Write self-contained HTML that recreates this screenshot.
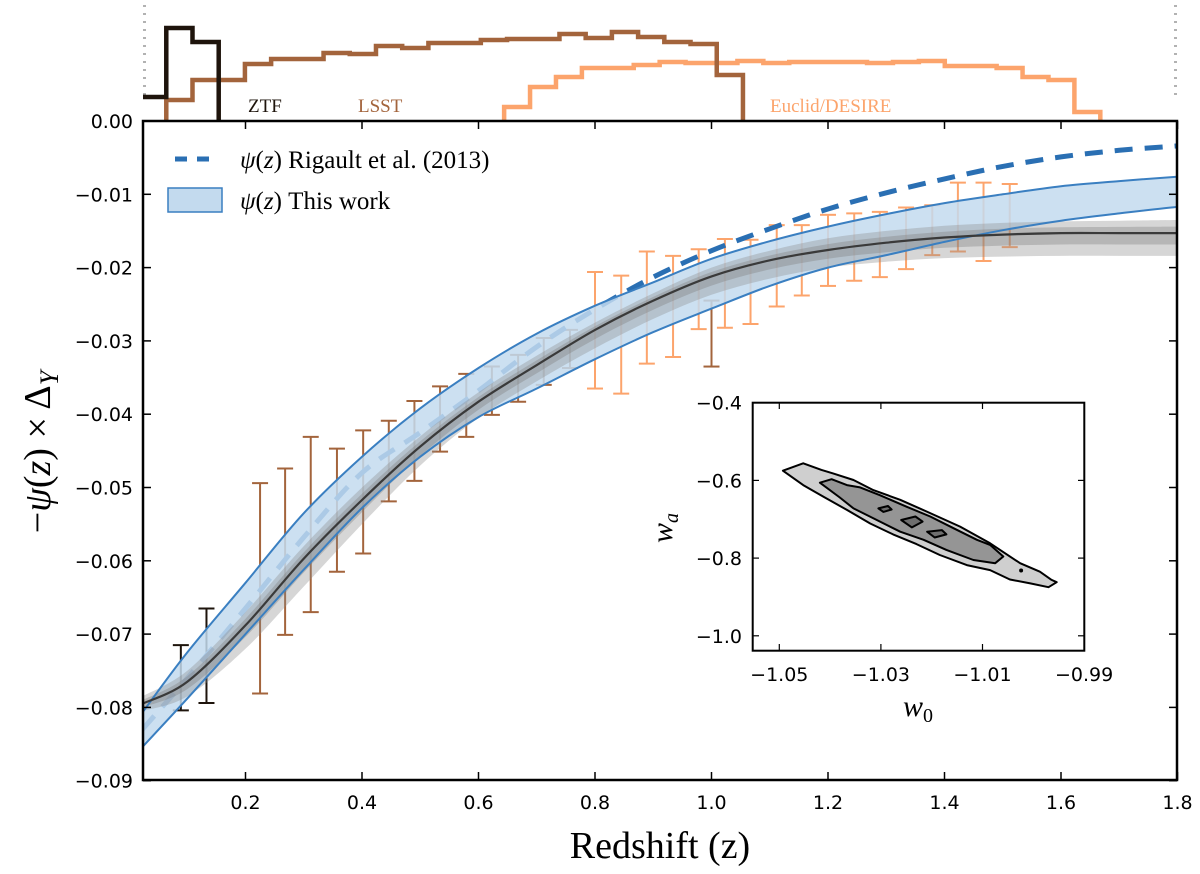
<!DOCTYPE html>
<html><head><meta charset="utf-8"><style>
html,body{margin:0;padding:0;background:#fff;}
svg{display:block;}
.tk{font-family:"DejaVu Sans","Liberation Sans",sans-serif;font-size:19px;fill:#000;}
.sf{font-family:"Liberation Serif","DejaVu Serif",serif;}
</style></head><body>
<svg id="chart" width="1200" height="874" viewBox="0 0 1200 874" xmlns="http://www.w3.org/2000/svg">
<defs><clipPath id="mainclip"><rect x="143" y="121" width="1034" height="659"/></clipPath>
<clipPath id="histclip"><rect x="143" y="0" width="1034" height="121"/></clipPath></defs>
<g id="hist" clip-path="url(#histclip)"></g>
<g id="main" clip-path="url(#mainclip)"></g>
<g id="axes"></g>
<g id="inset"></g>
</svg>
<script>
// ---- data ----
const zGrid = [0.023,0.1,0.2,0.3,0.4,0.5,0.6,0.7,0.8,0.9,1.0,1.1,1.2,1.3,1.4,1.5,1.6,1.7,1.8];
const medianPsi = [-0.0795,-0.0765,-0.0688,-0.0597,-0.0517,-0.0444,-0.0383,-0.0333,-0.0285,-0.0245,-0.0212,-0.0190,-0.0176,-0.0166,-0.0159,-0.0155,-0.0153,-0.0153,-0.0153];
const bandUpper = [-0.0807,-0.0725,-0.0630,-0.0535,-0.0458,-0.0392,-0.0337,-0.0290,-0.0252,-0.0220,-0.0188,-0.0164,-0.0144,-0.0127,-0.0112,-0.0100,-0.0089,-0.0082,-0.0076];
const bandLower = [-0.0854,-0.0788,-0.0700,-0.0612,-0.0528,-0.0458,-0.0404,-0.0365,-0.0325,-0.0288,-0.0256,-0.0225,-0.0200,-0.0183,-0.0165,-0.0149,-0.0136,-0.0126,-0.0117];
const rigault = [-0.0830,-0.0760,-0.0665,-0.0568,-0.0480,-0.0425,-0.0368,-0.0308,-0.0257,-0.0213,-0.0177,-0.0147,-0.0120,-0.0098,-0.0079,-0.0062,-0.0049,-0.0040,-0.0034];
const greyHi = [-0.0785,-0.0750,-0.0670,-0.0580,-0.0500,-0.0430,-0.0370,-0.0320,-0.0275,-0.0235,-0.0200,-0.0177,-0.0160,-0.0150,-0.0143,-0.0139,-0.0137,-0.0136,-0.0135];
const greyLo = [-0.0805,-0.0785,-0.0720,-0.0635,-0.0550,-0.0470,-0.0405,-0.0355,-0.0310,-0.0270,-0.0237,-0.0215,-0.0200,-0.0192,-0.0187,-0.0185,-0.0184,-0.0184,-0.0184];

const ztfZ = [0.089,0.133];
const ztfHi = [-0.0715,-0.0665];
const ztfLo = [-0.0804,-0.0794];
const lsstZ = [0.225,0.268,0.312,0.357,0.402,0.446,0.490,0.534,0.579,0.623,0.668,0.712,0.757,1.0];
const lsstHi = [-0.0494,-0.0474,-0.0431,-0.0447,-0.0422,-0.0409,-0.0382,-0.0362,-0.0345,-0.0335,-0.0319,-0.0296,-0.0285,-0.0245];
const lsstLo = [-0.0781,-0.0701,-0.0670,-0.0615,-0.0590,-0.0519,-0.0491,-0.0451,-0.0431,-0.0401,-0.0383,-0.0360,-0.0337,-0.0335];
const euclidZ = [0.8,0.845,0.889,0.934,0.978,1.023,1.067,1.112,1.155,1.2,1.245,1.289,1.334,1.379,1.423,1.467,1.512];
const euclidHi = [-0.0206,-0.0211,-0.0178,-0.0184,-0.0175,-0.0161,-0.0162,-0.0142,-0.0142,-0.0128,-0.0126,-0.0124,-0.0118,-0.0115,-0.0084,-0.0084,-0.0086];
const euclidLo = [-0.0365,-0.0372,-0.0331,-0.0322,-0.0284,-0.0282,-0.0277,-0.0253,-0.0238,-0.0225,-0.0218,-0.0213,-0.0202,-0.0183,-0.0178,-0.0191,-0.0172];

const ztfHistStart = 0.02, ztfHistEdges = [0.02,0.064,0.109,0.154];
const ztfHist = [24,93,79];
const lsstHistStart = 0.064, lsstHistWidth = 0.045;
const lsstHist = [21,41,41,57,62,62,68,67,75,73,78,78,81,82,82,87,83,89,84,79,77,46];
const euclidHistStart = 0.644, euclidHistWidth = 0.0445;
const euclidHist = [14,34,44,53,53,56,59,58,58,60,58,59,59,59,58,59,60,55,55,53,44,41,9];

const xTicks = [0.2,0.4,0.6,0.8,1.0,1.2,1.4,1.6,1.8];
const xTickLabels = ["0.2","0.4","0.6","0.8","1.0","1.2","1.4","1.6","1.8"];
const yTicks = [-0.01,-0.02,-0.03,-0.04,-0.05,-0.06,-0.07,-0.08,-0.09];
const yTickLabels = ["\u22120.01","\u22120.02","\u22120.03","\u22120.04","\u22120.05","\u22120.06","\u22120.07","\u22120.08","\u22120.09"];

const outerW0 = [-1.0493,-1.0453,-1.0417,-1.0394,-1.0354,-1.0315,-1.0262,-1.0210,-1.0144,-1.0085,-1.0026,-0.9987,-0.9964,-0.9954,-0.9970,-1.0006,-1.0046,-1.0085,-1.0131,-1.0184,-1.0230,-1.0276,-1.0321,-1.0367,-1.0413,-1.0453];
const outerWa = [-0.575,-0.556,-0.573,-0.582,-0.599,-0.625,-0.650,-0.680,-0.719,-0.762,-0.813,-0.835,-0.856,-0.862,-0.875,-0.865,-0.855,-0.831,-0.818,-0.792,-0.764,-0.739,-0.711,-0.676,-0.642,-0.612];
const midW0 = [-1.0420,-1.0397,-1.0367,-1.0341,-1.0302,-1.0249,-1.0203,-1.0157,-1.0111,-1.0085,-1.0059,-1.0075,-1.0118,-1.0171,-1.0216,-1.0262,-1.0308,-1.0354,-1.0381];
const midWa = [-0.606,-0.597,-0.612,-0.618,-0.638,-0.668,-0.693,-0.723,-0.753,-0.766,-0.796,-0.813,-0.805,-0.779,-0.753,-0.732,-0.702,-0.672,-0.644];
const inner1W0 = [-1.0305,-1.0286,-1.0279,-1.0295], inner1Wa = [-0.672,-0.666,-0.675,-0.681];
const inner2W0 = [-1.0260,-1.0232,-1.0218,-1.0239], inner2Wa = [-0.702,-0.693,-0.706,-0.721];
const inner3W0 = [-1.0209,-1.0180,-1.0171,-1.0194], inner3Wa = [-0.732,-0.728,-0.739,-0.747];
const insetXTicks = [-1.05,-1.03,-1.01,-0.99];
const insetXLabels = ["\u22121.05","\u22121.03","\u22121.01","\u22120.99"];
const insetYTicks = [-0.4,-0.6,-0.8,-1.0];
const insetYLabels = ["\u22120.4","\u22120.6","\u22120.8","\u22121.0"];

// ---- scales ----
const X = z => 245.5 + (z - 0.2) * 582.5;
const Y = v => 121 - v * 7330;
const HY = h => 121 - h;
const IX = w => 779.3 + (w + 1.05) * 5080;
const IY = a => 402.7 - (a + 0.4) * 388.5;
const NS = "http://www.w3.org/2000/svg";
function mk(tag, attrs, parent){const e=document.createElementNS(NS,tag);for(const k in attrs)e.setAttribute(k,attrs[k]);parent.appendChild(e);return e;}
function smooth(pts){
  let d="M"+pts[0][0].toFixed(1)+","+pts[0][1].toFixed(1);
  for(let i=0;i<pts.length-1;i++){
    const p0=pts[Math.max(0,i-1)],p1=pts[i],p2=pts[i+1],p3=pts[Math.min(pts.length-1,i+2)];
    const c1=[p1[0]+(p2[0]-p0[0])/6,p1[1]+(p2[1]-p0[1])/6],c2=[p2[0]-(p3[0]-p1[0])/6,p2[1]-(p3[1]-p1[1])/6];
    d+="C"+c1[0].toFixed(1)+","+c1[1].toFixed(1)+" "+c2[0].toFixed(1)+","+c2[1].toFixed(1)+" "+p2[0].toFixed(1)+","+p2[1].toFixed(1);
  }
  return d;
}
function curve(arr){return smooth(zGrid.map((z,i)=>[X(z),Y(arr[i])]));}
function bandPath(hi,lo){
  const up=curve(hi);
  const loPts=zGrid.map((z,i)=>[X(z),Y(lo[i])]).reverse();
  return up+"L"+smooth(loPts).slice(1)+"Z";
}

// ---- histogram ----
const hist=document.getElementById('hist');
function stepHist(start, edgesOrWidth, vals, color, name){
  let d="", n=vals.length;
  const edge=i=>Array.isArray(edgesOrWidth)?edgesOrWidth[i]:start+i*edgesOrWidth;
  d="M"+X(edge(0))+","+HY(0);
  for(let i=0;i<n;i++){d+="L"+X(edge(i))+","+HY(vals[i])+"L"+X(edge(i+1))+","+HY(vals[i]);}
  d+="L"+X(edge(n))+","+HY(0);
  const p=mk('path',{d:d,fill:'none',stroke:color,'stroke-width':4.5,'stroke-linejoin':'miter'},hist);
  
  
}
stepHist(euclidHistStart,euclidHistWidth,euclidHist,'#fca46c','euclid-histogram');
stepHist(lsstHistStart,lsstHistWidth,lsstHist,'#a3643c','lsst-histogram');
stepHist(ztfHistStart,ztfHistEdges,ztfHist,'#1e140c','ztf-histogram');

// ---- main plot ----
const main=document.getElementById('main');
function errbars(zs,hi,lo,color,name){
  zs.forEach((z,i)=>{
    const g=mk('g',{stroke:color,'stroke-width':2},main);
    
    
    const x=X(z);
    mk('line',{x1:x,x2:x,y1:Y(hi[i]),y2:Y(lo[i])},g);
    mk('line',{x1:x-8,x2:x+8,y1:Y(hi[i]),y2:Y(hi[i])},g);
    mk('line',{x1:x-8,x2:x+8,y1:Y(lo[i]),y2:Y(lo[i])},g);
  });
}
errbars(ztfZ,ztfHi,ztfLo,'#1e140c','ztf-errorbar');
errbars(lsstZ,lsstHi,lsstLo,'#a3643c','lsst-errorbar');
errbars(euclidZ,euclidHi,euclidLo,'#fca46c','euclid-errorbar');
let e=mk('path',{d:curve(rigault),fill:'none',stroke:'#2a6fb3','stroke-width':5,'stroke-dasharray':'18,12'},main);


e=mk('path',{d:bandPath(bandUpper,bandLower),fill:'#c3daee','fill-opacity':0.85,stroke:'none'},main);


e=mk('path',{d:bandPath(greyHi,greyLo),fill:'#8a8a8a','fill-opacity':0.35,stroke:'none'},main);


const greyMidHi=greyHi.map((v,i)=>(v+medianPsi[i])/2), greyMidLo=greyLo.map((v,i)=>(v+medianPsi[i])/2);
e=mk('path',{d:bandPath(greyMidHi,greyMidLo),fill:'#7a7a7a','fill-opacity':0.35,stroke:'none'},main);


e=mk('path',{d:curve(bandUpper),fill:'none',stroke:'#3a7fc1','stroke-width':2},main);


e=mk('path',{d:curve(bandLower),fill:'none',stroke:'#3a7fc1','stroke-width':2},main);


e=mk('path',{d:curve(medianPsi),fill:'none',stroke:'#3a3a3a','stroke-width':2.2},main);



// ---- axes ----
const ax=document.getElementById('axes');
e=mk('rect',{x:143,y:121,width:1034,height:659,fill:'none',stroke:'#000','stroke-width':2.5},ax);


xTicks.forEach((t,i)=>{
  const x=X(t);
  mk('line',{x1:x,x2:x,y1:780,y2:772,stroke:'#000','stroke-width':1.5},ax);
  mk('line',{x1:x,x2:x,y1:121,y2:129,stroke:'#000','stroke-width':1.5},ax);
  const tx=mk('text',{x:x,y:809,'text-anchor':'middle',class:'tk'},ax);
  tx.textContent=xTickLabels[i];
  
  
});
yTicks.forEach((t,i)=>{
  const y=Y(t);
  mk('line',{x1:143,x2:151,y1:y,y2:y,stroke:'#000','stroke-width':1.5},ax);
  mk('line',{x1:1177,x2:1169,y1:y,y2:y,stroke:'#000','stroke-width':1.5},ax);
  const tx=mk('text',{x:133,y:y+7,'text-anchor':'end',class:'tk'},ax);
  tx.textContent=yTickLabels[i];
  
  
});
e=mk('text',{x:133,y:128,'text-anchor':'end',class:'tk'},ax); e.textContent="0.00";


for(let k=0;k<12;k++){
  mk('line',{x1:143,x2:146,y1:6+k*8,y2:6+k*8,stroke:'#666','stroke-width':1},ax);
  mk('line',{x1:1174,x2:1177,y1:6+k*8,y2:6+k*8,stroke:'#666','stroke-width':1},ax);
}
const labels=[["ZTF",248,'#1e140c','ztf-label'],["LSST",358,'#a3643c','lsst-label'],["Euclid/DESIRE",770,'#fca46c','euclid-label']];
labels.forEach(l=>{const t=mk('text',{x:l[1],y:112,class:'sf','font-size':19,fill:l[2]},ax);t.textContent=l[0];
  
  });
e=mk('text',{x:660,y:858,'text-anchor':'middle',class:'sf','font-size':38},ax);
e.textContent="Redshift (z)";


e=mk('text',{transform:'translate(50,452) rotate(-90)','text-anchor':'middle',class:'sf','font-size':38},ax);
e.innerHTML='\u2212<tspan font-style="italic">\u03c8</tspan>(<tspan font-style="italic">z</tspan>) \u00d7 \u0394<tspan font-style="italic" font-size="26" dy="8">Y</tspan>';


const lg=mk('g',{},ax);


mk('line',{x1:175,x2:215,y1:159,y2:159,stroke:'#2a6fb3','stroke-width':5,'stroke-dasharray':'12,10'},lg);
mk('rect',{x:168,y:188,width:54,height:24,fill:'#c3daee',stroke:'#3a7fc1','stroke-width':1.5},lg);
e=mk('text',{x:240,y:168,class:'sf','font-size':25},lg);
e.innerHTML='<tspan font-style="italic">\u03c8</tspan>(<tspan font-style="italic">z</tspan>) Rigault et al. (2013)';


e=mk('text',{x:240,y:209,class:'sf','font-size':25},lg);
e.innerHTML='<tspan font-style="italic">\u03c8</tspan>(<tspan font-style="italic">z</tspan>) This work';



// ---- inset ----
const ins=document.getElementById('inset');
e=mk('rect',{x:752.7,y:402.7,width:331.6,height:248,fill:'#fff',stroke:'#000','stroke-width':2},ins);


function poly(ws,as,fill,name){
  const p=mk('polygon',{points:ws.map((w,i)=>IX(w).toFixed(1)+","+IY(as[i]).toFixed(1)).join(" "),fill:fill,stroke:'#000','stroke-width':2,'stroke-linejoin':'round'},ins);
  
  
}
poly(outerW0,outerWa,'#cfcfcf','contour-outer');
poly(midW0,midWa,'#959595','contour-middle');
poly(inner1W0,inner1Wa,'#6e6e6e','contour-inner-1');
poly(inner2W0,inner2Wa,'#6e6e6e','contour-inner-2');
poly(inner3W0,inner3Wa,'#6e6e6e','contour-inner-3');
mk('circle',{cx:IX(-1.0024),cy:IY(-0.832),r:2,fill:'#000'},ins);
insetXTicks.forEach((t,i)=>{
  const x=IX(t);
  mk('line',{x1:x,x2:x,y1:650.7,y2:644,stroke:'#000','stroke-width':1.2},ins);
  mk('line',{x1:x,x2:x,y1:402.7,y2:409,stroke:'#000','stroke-width':1.2},ins);
  const tx=mk('text',{x:x,y:681,'text-anchor':'middle',class:'tk'},ins);
  tx.textContent=insetXLabels[i];
  
  
});
insetYTicks.forEach((t,i)=>{
  const y=IY(t);
  mk('line',{x1:752.7,x2:759,y1:y,y2:y,stroke:'#000','stroke-width':1.2},ins);
  mk('line',{x1:1084.3,x2:1078,y1:y,y2:y,stroke:'#000','stroke-width':1.2},ins);
  const tx=mk('text',{x:742,y:y+7,'text-anchor':'end',class:'tk'},ins);
  tx.textContent=insetYLabels[i];
  
  
});
e=mk('text',{transform:'translate(672,528) rotate(-90)','text-anchor':'middle',class:'sf','font-size':30,'font-style':'italic'},ins);
e.innerHTML='w<tspan font-size="20" dy="6">a</tspan>';


e=mk('text',{x:918,y:716,'text-anchor':'middle',class:'sf','font-size':30,'font-style':'italic'},ins);
e.innerHTML='w<tspan font-size="20" dy="6" font-style="normal">0</tspan>';


</script>
</body></html>
